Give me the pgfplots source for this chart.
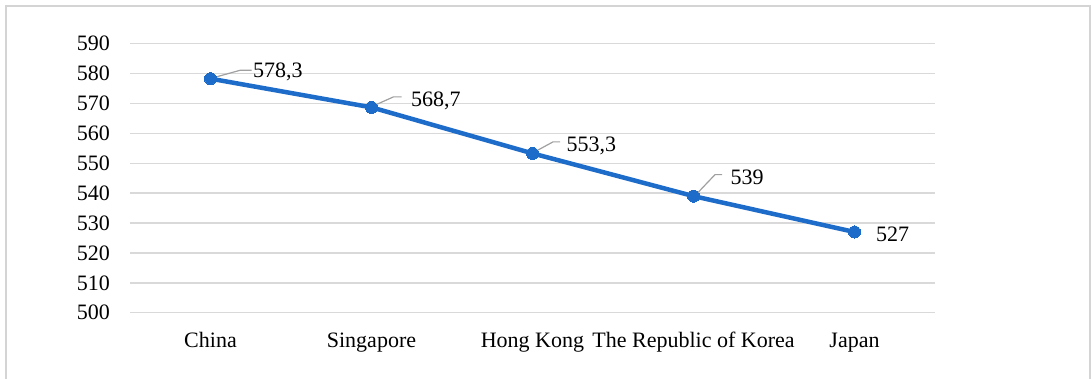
\documentclass[border=0pt]{standalone}
\usepackage{pgfplots}
\usepackage{pgfplotstable}
\pgfplotsset{compat=1.18}
\usepackage{fontspec}
\setmainfont{Liberation Serif}

\definecolor{lineblue}{RGB}{30,108,202}
\definecolor{gridgray}{RGB}{217,217,217}
\definecolor{framegray}{RGB}{212,212,212}
\definecolor{leadergray}{RGB}{160,160,160}

% mean scores by country; dx/dy place each value label (pt)
\pgfplotstableread{
x  y      lbl    dx    dy
0  578.3  578,3  42.5  0.8
1  568.7  568,7  39.5  1.3
2  553.3  553,3  34.2  1.6
3  539    539    37.2  12.1
4  527    527    21.5  -9.5
}\scores

\newcommand{\chartfont}{\fontsize{22}{26}\selectfont}

\begin{document}
\begin{tikzpicture}
  \path[use as bounding box] (0,0) rectangle (1091pt,379pt);
  % chart frame
  \draw[framegray, line width=2pt] (6pt,-2pt) -- (6pt,373pt) -- (1090pt,373pt) -- (1090pt,-2pt);
  \begin{axis}[
    at={(130pt,66.3pt)}, anchor=south west,
    scale only axis, width=805pt, height=269pt,
    xmin=-0.5, xmax=4.5, ymin=500, ymax=590,
    xtick={0,1,2,3,4},
    xticklabels={China, Singapore, Hong Kong, The Republic of Korea, Japan},
    ytick={500,510,...,590},
    axis line style={draw=none},
    major tick length=0pt,
    ymajorgrids, grid style={gridgray, line width=1.5pt},
    /pgf/number format/assume math mode=true,
    tick label style={font=\chartfont},
    xticklabel style={anchor=base, inner sep=0pt, yshift=-35.3pt},
    yticklabel style={anchor=east, inner sep=0pt, xshift=-20pt},
    clip=false,
  ]
    \addplot[lineblue, line width=4.5pt, mark=*, mark size=6pt,
      mark options={fill=lineblue, draw=lineblue, line width=0pt},
      point meta=explicit symbolic,
      nodes near coords,
      visualization depends on={\thisrow{dx} \as \dx},
      visualization depends on={\thisrow{dy} \as \dy},
      every node near coord/.append style={
        font=\chartfont, text=black, anchor=base west, inner sep=0pt,
        xshift=\dx pt, yshift=\dy pt},
    ] table[x=x, y=y, meta=lbl] {\scores};

    % leader lines from points to their labels
    \draw[leadergray, line width=1.2pt] (axis cs:0,578.3) ++(3pt,1pt) -- ++(27pt,7.5pt) -- ++(11pt,0pt);
    \draw[leadergray, line width=1.2pt] (axis cs:1,568.7) ++(3pt,2pt) -- ++(19pt,8.5pt) -- ++(8pt,0pt);
    \draw[leadergray, line width=1.2pt] (axis cs:2,553.3) ++(3pt,2pt) -- ++(17.5pt,9.5pt) -- ++(7pt,0pt);
    \draw[leadergray, line width=1.2pt] (axis cs:3,539) ++(2pt,1pt) -- ++(19.5pt,20.5pt) -- ++(7pt,0pt);
  \end{axis}
\end{tikzpicture}
\end{document}
